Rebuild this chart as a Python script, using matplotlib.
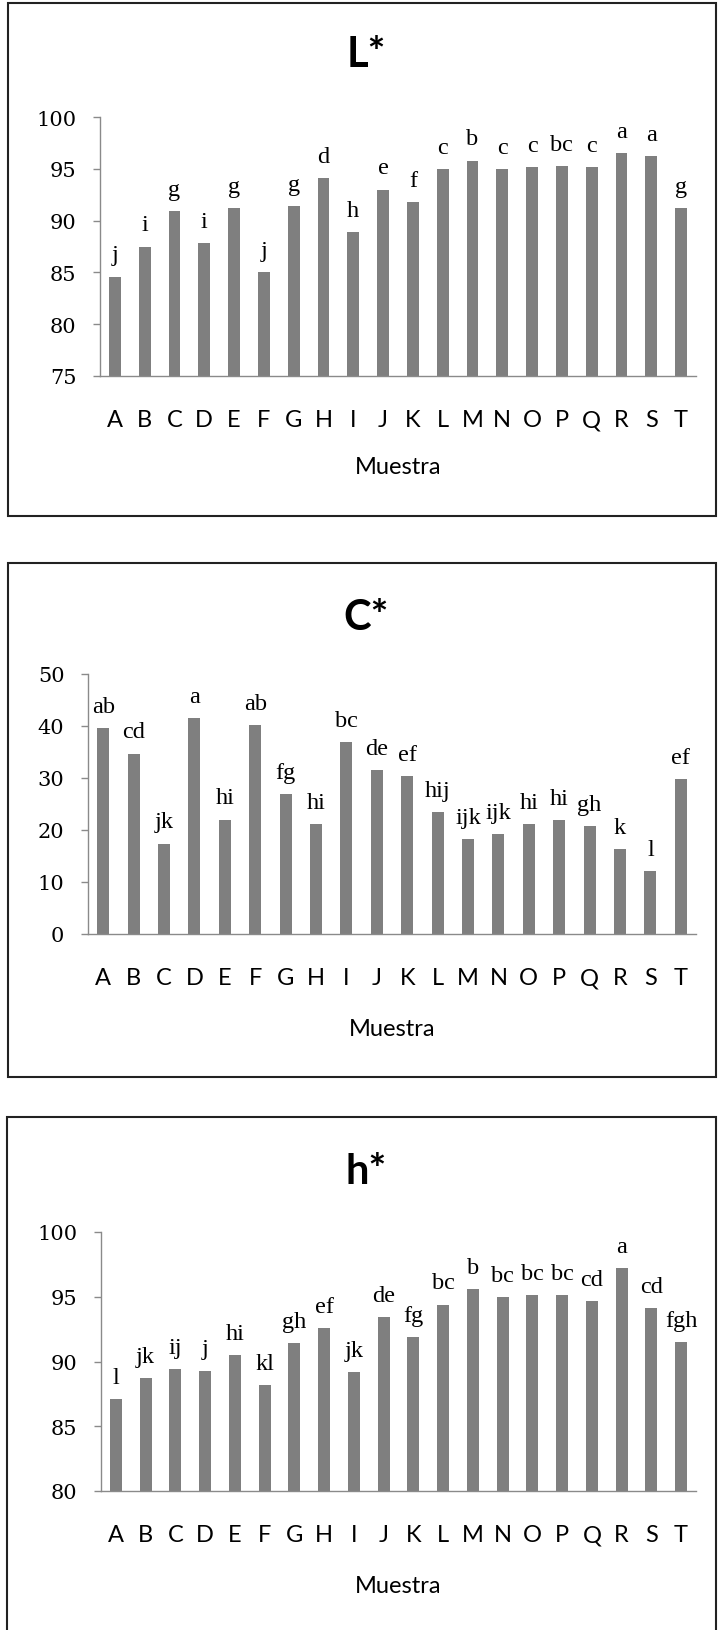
import matplotlib
matplotlib.use("Agg")
import matplotlib.pyplot as plt
from matplotlib.patches import Rectangle

categories = list("ABCDEFGHIJKLMNOPQRST")

L_values = [84.6, 87.5, 90.9, 87.8, 91.2, 85.0, 91.4, 94.1, 88.9, 93.0,
            91.8, 95.0, 95.8, 95.0, 95.2, 95.3, 95.2, 96.5, 96.2, 91.2]
L_letters = ["j", "i", "g", "i", "g", "j", "g", "d", "h", "e",
             "f", "c", "b", "c", "c", "bc", "c", "a", "a", "g"]

C_values = [39.6, 34.7, 17.4, 41.5, 22.0, 40.2, 26.9, 21.1, 36.9, 31.6,
            30.4, 23.5, 18.3, 19.2, 21.1, 21.9, 20.7, 16.4, 12.1, 29.8]
C_letters = ["ab", "cd", "jk", "a", "hi", "ab", "fg", "hi", "bc", "de",
             "ef", "hij", "ijk", "ijk", "hi", "hi", "gh", "k", "l", "ef"]

h_values = [87.1, 88.7, 89.4, 89.3, 90.5, 88.2, 91.4, 92.6, 89.2, 93.4,
            91.9, 94.4, 95.6, 95.0, 95.1, 95.1, 94.7, 97.2, 94.1, 91.5]
h_letters = ["l", "jk", "ij", "j", "hi", "kl", "gh", "ef", "jk", "de",
             "fg", "bc", "b", "bc", "bc", "bc", "cd", "a", "cd", "fgh"]

panels = [
    dict(title="L*", values=L_values, letters=L_letters, ylim=(75, 100), yticks=[75, 80, 85, 90, 95, 100],
         frame=(8, 4, 716, 517), ax=(100, 118, 696, 377), title_y=55, xlabel_y=468),
    dict(title="C*", values=C_values, letters=C_letters, ylim=(0, 50), yticks=[0, 10, 20, 30, 40, 50],
         frame=(8, 564, 716, 1078), ax=(88, 675, 696, 935), title_y=618, xlabel_y=1030),
    dict(title="h*", values=h_values, letters=h_letters, ylim=(80, 100), yticks=[80, 85, 90, 95, 100],
         frame=(7, 1118, 716, 1640), ax=(101, 1233, 696, 1492), title_y=1172, xlabel_y=1587),
]

W, H = 718, 1631
fig = plt.figure(figsize=(W / 100, H / 100), dpi=100)
fig.patch.set_facecolor("white")

bar_color = "#7f7f7f"
axis_color = "#8a8a8a"

for p in panels:
    fx0, fy0, fx1, fy1 = p["frame"]
    fig.patches.append(Rectangle((fx0 / W, 1 - fy1 / H), (fx1 - fx0) / W, (fy1 - fy0) / H,
                                 transform=fig.transFigure, fill=False,
                                 edgecolor="#222222", linewidth=1.5))
    x0, y0, x1, y1 = p["ax"]
    ax = fig.add_axes([x0 / W, 1 - y1 / H, (x1 - x0) / W, (y1 - y0) / H])
    xs = list(range(len(categories)))
    ax.bar(xs, p["values"], width=0.4, color=bar_color, zorder=2)
    ax.set_xlim(-0.5, len(categories) - 0.5)
    ax.set_ylim(*p["ylim"])
    ax.set_yticks(p["yticks"])
    ax.set_yticklabels([str(t) for t in p["yticks"]], family="DejaVu Serif", fontsize=15)
    ax.set_xticks(xs)
    ax.set_xticklabels(categories, family="Lato", fontsize=17)
    ax.tick_params(axis="x", length=0, pad=24)
    ax.tick_params(axis="y", direction="out", length=5, width=1, color=axis_color, pad=12)
    for s in ["top", "right"]:
        ax.spines[s].set_visible(False)
    for s in ["left", "bottom"]:
        ax.spines[s].set_color(axis_color)
        ax.spines[s].set_linewidth(1)
    for x, v, lab in zip(xs, p["values"], p["letters"]):
        ax.annotate(lab, (x, v), xytext=(0, 8), textcoords="offset points",
                    ha="center", va="bottom", family="Liberation Serif", fontsize=17.5)
    fig.text(366 / W, 1 - p["title_y"] / H, p["title"], ha="center", va="center",
             family="Lato", fontweight="bold", fontsize=30)
    fig.text(((x0 + x1) / 2) / W, 1 - p["xlabel_y"] / H, "Muestra", ha="center", va="center",
             family="Lato", fontsize=17)

fig.savefig("out.png", dpi=100, facecolor="white")
